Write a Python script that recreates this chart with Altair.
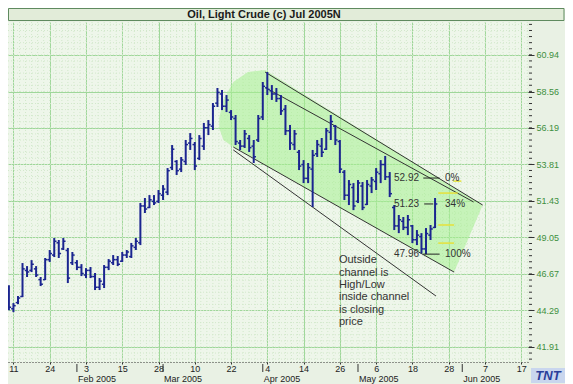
import altair as alt
import pandas as pd

# ---------------- data ----------------
bar_index = list(range(-1, 94))
highs = [45.94, 44.77, 45.23, 47.38, 47.18, 47.57, 47.18, 46.47, 47.71, 48.23,
         49.01, 48.88, 49.01, 48.36, 48.10, 47.57, 47.31, 47.05, 47.12, 46.73,
         46.40, 47.25, 47.64, 47.90, 47.84, 48.10, 48.23, 48.69, 49.01, 51.29,
         51.62, 51.81, 51.81, 52.14, 52.46, 53.57, 55.07, 54.09, 54.29, 55.40,
         55.85, 55.27, 55.72, 56.51, 56.70, 57.81, 58.79, 58.66, 58.33, 57.35,
         57.03, 55.40, 56.05, 55.72, 55.40, 57.03, 59.18, 59.83, 58.98, 58.79,
         58.33, 57.68, 56.38, 56.05, 54.75, 54.09, 53.90, 54.75, 55.40, 55.53,
         56.18, 57.03, 56.38, 55.40, 53.44, 52.79, 52.59, 52.79, 52.66, 52.79,
         52.99, 53.57, 54.09, 54.36, 53.31, 51.16, 50.51, 50.38, 50.51, 49.86,
         49.53, 49.33, 49.66, 49.86, 51.62]
lows = [44.31, 44.18, 44.70, 45.16, 46.47, 46.79, 46.47, 45.88, 46.27, 47.45,
        47.77, 47.71, 48.23, 46.08, 47.25, 46.92, 46.53, 46.40, 46.40, 45.62,
        45.62, 45.75, 46.92, 47.25, 47.18, 47.45, 47.71, 47.71, 48.23, 48.55,
        50.64, 50.96, 51.16, 51.29, 51.49, 51.81, 53.44, 53.12, 53.31, 53.77,
        54.75, 53.44, 54.09, 54.75, 55.72, 56.05, 57.55, 57.35, 57.22, 56.70,
        55.07, 54.75, 54.88, 54.62, 53.90, 55.27, 56.70, 58.33, 58.01, 57.88,
        57.03, 55.72, 54.75, 54.75, 53.44, 52.59, 52.59, 51.03, 54.29, 54.29,
        54.75, 55.40, 55.07, 53.25, 51.49, 51.16, 50.83, 51.29, 50.83, 51.16,
        51.94, 52.14, 52.59, 52.79, 51.68, 49.53, 49.33, 49.53, 49.20, 48.68,
        48.55, 48.01, 47.96, 48.88, 49.66]
opens = [45.6, 44.4, 44.8, 45.2, 46.9, 46.9, 47.0, 46.3, 46.3, 47.6,
         47.9, 48.7, 48.3, 48.2, 47.4, 47.4, 47.1, 46.6, 46.9, 46.5,
         45.8, 46.0, 47.1, 47.4, 47.6, 47.5, 47.9, 47.8, 48.4, 48.7,
         51.1, 51.0, 51.4, 51.4, 51.8, 52.0, 53.6, 54.0, 53.5, 54.0,
         55.2, 55.1, 54.2, 55.0, 56.2, 56.3, 57.8, 58.4, 57.6, 57.2,
         56.8, 55.2, 55.0, 55.5, 55.0, 55.4, 56.9, 58.8, 58.6, 58.4,
         58.1, 57.4, 56.0, 55.1, 54.6, 53.8, 52.9, 53.5, 54.5, 55.0,
         54.8, 55.9, 56.3, 55.3, 53.3, 51.8, 52.3, 51.4, 52.4, 51.2,
         52.4, 52.7, 53.2, 53.8, 53.0, 51.0, 49.8, 50.1, 49.7, 49.8,
         48.9, 49.1, 48.3, 49.2, 49.7]
closes = [44.5, 44.6, 45.1, 47.0, 46.8, 47.3, 46.6, 46.0, 47.6, 48.0,
          48.8, 48.0, 48.8, 46.4, 47.9, 47.1, 46.7, 46.9, 46.5, 45.8,
          46.2, 47.1, 47.5, 47.6, 47.3, 47.9, 48.1, 48.5, 48.8, 51.1,
          50.9, 51.5, 51.3, 51.9, 52.2, 53.4, 54.8, 53.4, 54.1, 55.1,
          55.5, 53.7, 55.5, 56.2, 56.4, 57.6, 58.5, 57.6, 58.0, 56.9,
          55.3, 55.0, 55.8, 54.9, 54.3, 56.8, 58.9, 58.7, 58.4, 58.1,
          57.3, 56.0, 55.2, 55.8, 53.7, 52.9, 53.6, 54.4, 55.1, 54.6,
          56.0, 56.6, 55.4, 53.5, 51.8, 52.5, 51.1, 52.6, 51.0, 52.5,
          52.8, 53.3, 53.8, 53.0, 51.9, 49.8, 50.2, 49.7, 50.2, 48.9,
          49.2, 48.3, 49.3, 49.6, 51.23]

# axis labels
y_ticks = [41.91, 44.29, 46.67, 49.05, 51.43, 53.81, 56.19, 58.56, 60.94]
day_ticks = [0, 8, 16, 24, 32, 40, 48, 56, 64, 72, 80, 88, 96, 104, 112]
day_labels = ["11", "24", "3", "15", "28", "10", "22", "4", "14", "26", "6", "18", "28", "7", "17"]
month_start = [14, 33, 55, 76, 99]
month_names = ["Feb 2005", "Mar 2005", "Apr 2005", "May 2005", "Jun 2005"]

# channel lines (bar index, price)
chan_x1 = [55.5, 55.7, 48.5, 48.5]
chan_y1 = [59.83, 58.79, 54.94, 54.75]
chan_x2 = [103.5, 101.5, 97.2, 93.2]
chan_y2 = [51.16, 51.36, 46.79, 45.23]

# shaded channel region
shade_x = [45.4, 46.3, 48.5, 51.7, 55.5, 97.2, 103.5]
shade_top = [56.83, 58.01, 59.18, 59.83, 59.96, 52.29, 51.16]
shade_bot = [56.18, 55.40, 54.94, 54.42, 53.77, 46.79, 51.16]

# retracement annotations
fib_price = [52.92, 51.23, 47.96]
fib_value_text = ["52.92", "51.23", "47.96"]
fib_pct_text = ["0%", "34%", "100%"]
fib_line_x1 = [90.4, 90.6, 90.4]
fib_line_x2 = [94.0, 92.6, 94.0]
yellow_price = [52.72, 51.94, 49.86, 48.68]
yellow_x1 = [97.0, 93.7, 93.7, 93.7]
yellow_x2 = [98.8, 98.0, 97.2, 97.2]

note_text = "Outside\nchannel is\nHigh/Low\ninside channel\nis closing\nprice"
note_x, note_y = 71.8, 47.57

title_text = "Oil, Light Crude (c) Jul 2005N"

# ---------------- chart ----------------
W, H = 520, 340
FONT = "Liberation Sans"
xs = alt.Scale(domain=[-1.2, 113.5], nice=False, zero=False)
ys = alt.Scale(domain=[40.93, 63.09], nice=False, zero=False)

label_expr = "[" + ",".join("'%s'" % s for s in day_labels) + "][round(datum.value / 8)]"
x_axis = alt.Axis(values=day_ticks, labelExpr=label_expr, grid=True, gridColor="#9fd79a",
                  gridWidth=1, tickSize=2, tickColor="#333", domainColor="#333",
                  domainDash=[1, 2], labelFont=FONT, labelFontSize=9, labelColor="#222",
                  labelPadding=0, title=None, labelFlush=False)
y_axis = alt.Axis(values=y_ticks, orient="right", format=".2f", grid=True, gridColor="#9fd79a",
                  gridWidth=1, tickSize=6, tickColor="#333", domain=False, labelFont=FONT,
                  labelFontSize=9, labelColor="#3d8f3d", labelPadding=2, title=None)


def X(f):
    return alt.X(f, scale=xs, axis=x_axis, title=None)


def Y(f):
    return alt.Y(f, scale=ys, axis=y_axis, title=None)


bars = pd.DataFrame({"i": bar_index, "high": highs, "low": lows, "open": opens, "close": closes})

minor_y = [round(y_ticks[0] + k * (y_ticks[1] - y_ticks[0]) / 6, 4) for k in range(-2, 56)]
minor_y = [v for v in minor_y if 40.93 <= v <= 63.09]
minor_x = [round(k * 8 / 6, 4) for k in range(-1, 86)]

# minor dotted grid
hgrid = alt.Chart(pd.DataFrame({"p": minor_y})).mark_rule(
    color="#d2e8cb", strokeDash=[1, 2], strokeWidth=1).encode(y=Y("p:Q"))
vgrid = alt.Chart(pd.DataFrame({"d": minor_x})).mark_rule(
    color="#d2e8cb", strokeDash=[1, 2], strokeWidth=1).encode(x=X("d:Q"))

shade = alt.Chart(pd.DataFrame({"x": shade_x, "t": shade_top, "b": shade_bot})).mark_area(
    color="#a6f08f", opacity=0.55).encode(x=X("x:Q"), y=Y("t:Q"), y2="b:Q")

chan = alt.Chart(pd.DataFrame({"x1": chan_x1, "y1": chan_y1, "x2": chan_x2, "y2": chan_y2})).mark_rule(
    color="#333333", strokeWidth=1).encode(x=X("x1:Q"), y=Y("y1:Q"), x2="x2:Q", y2="y2:Q")

BAR = "#1b2590"
hl = alt.Chart(bars).mark_rule(color=BAR, strokeWidth=2).encode(
    x=X("i:Q"), y=Y("low:Q"), y2="high:Q")
otick = alt.Chart(bars).transform_calculate(a="datum.i - 0.5").mark_rule(
    color=BAR, strokeWidth=1.5).encode(x=X("a:Q"), x2="i:Q", y=Y("open:Q"))
ctick = alt.Chart(bars).transform_calculate(b="datum.i + 0.5").mark_rule(
    color=BAR, strokeWidth=1.5).encode(x=X("i:Q"), x2="b:Q", y=Y("close:Q"))

fib_df = pd.DataFrame({"p": fib_price, "v": fib_value_text, "pct": fib_pct_text,
                       "x1": fib_line_x1, "x2": fib_line_x2})
fib_lines = alt.Chart(fib_df).mark_rule(color="#222", strokeWidth=1).encode(
    x=X("x1:Q"), x2="x2:Q", y=Y("p:Q"))
fib_vals = alt.Chart(fib_df).transform_calculate(x="86.7").mark_text(
    font=FONT, fontSize=10, color="#333", align="center", baseline="middle").encode(
    x=X("x:Q"), y=Y("p:Q"), text="v:N")
fib_pcts = alt.Chart(fib_df).transform_calculate(x="95.2").mark_text(
    font=FONT, fontSize=10, color="#333", align="left", baseline="middle").encode(
    x=X("x:Q"), y=Y("p:Q"), text="pct:N")
yellow = alt.Chart(pd.DataFrame({"p": yellow_price, "x1": yellow_x1, "x2": yellow_x2})).mark_rule(
    color="#e6e23a", strokeWidth=1.5).encode(x=X("x1:Q"), x2="x2:Q", y=Y("p:Q"))

note = alt.Chart(pd.DataFrame({"x": [note_x], "y": [note_y], "t": [note_text]})).mark_text(
    font=FONT, fontSize=11, color="#333", align="left", baseline="middle",
    lineBreak="\n", lineHeight=12.4).encode(x=X("x:Q"), y=Y("y:Q"), text="t:N")

# y-axis minor tick dashes
yminor = alt.Chart(pd.DataFrame({"p": minor_y})).mark_rule(color="#333", strokeWidth=1).encode(
    y=Y("p:Q"), x=alt.value(W + 1), x2=alt.value(W + 4))

# month separators and labels
months = pd.DataFrame({"m": month_start, "t": month_names})
msep = alt.Chart(months).mark_rule(color="#333", strokeWidth=1).encode(
    x=X("m:Q"), y=alt.value(H + 2), y2=alt.value(H + 10))
mlab = alt.Chart(months).mark_text(font=FONT, fontSize=9, color="#222", align="left",
                                   baseline="alphabetic", dx=1).encode(
    x=X("m:Q"), y=alt.value(H + 20), text="t:N")

one = pd.DataFrame({"t": [title_text]})
tbar = alt.Chart(one).mark_rect(fill="#e2ecd9", stroke="#5f8a5f", strokeWidth=1).encode(
    x=alt.value(0.5), x2=alt.value(W + 36), y=alt.value(-13.5), y2=alt.value(-1.5))
ttext = alt.Chart(one).mark_text(font=FONT, fontSize=11, fontWeight="bold", color="#1a1a1a",
                                 align="center", baseline="middle").encode(
    x=alt.value(256), y=alt.value(-7.5), text="t:N")

logo_df = pd.DataFrame({"t": ["TNT"]})
logo_bg = alt.Chart(logo_df).mark_rect(fill="#c9d6ee").encode(
    x=alt.value(W + 3), x2=alt.value(W + 37), y=alt.value(H + 6), y2=alt.value(H + 21))
logo = alt.Chart(logo_df).mark_text(font=FONT, fontSize=13, fontWeight="bold", fontStyle="italic",
                                    color="#2a3f9a", align="center", baseline="middle").encode(
    x=alt.value(W + 20), y=alt.value(H + 14), text="t:N")

chart = alt.layer(
    hgrid, vgrid, shade, chan, hl, otick, ctick,
    fib_lines, yellow, fib_vals, fib_pcts, note, yminor, msep, mlab,
    tbar, ttext, logo_bg, logo
).properties(
    width=W, height=H,
    autosize=alt.AutoSizeParams(type="none"),
    padding={"left": 0, "top": 14, "right": 37, "bottom": 22},
    background="#e9f1e4",
).configure_view(fill="#eef6ea", stroke=None)

chart.save("out.html", embed_options={"renderer": "svg", "actions": False})
